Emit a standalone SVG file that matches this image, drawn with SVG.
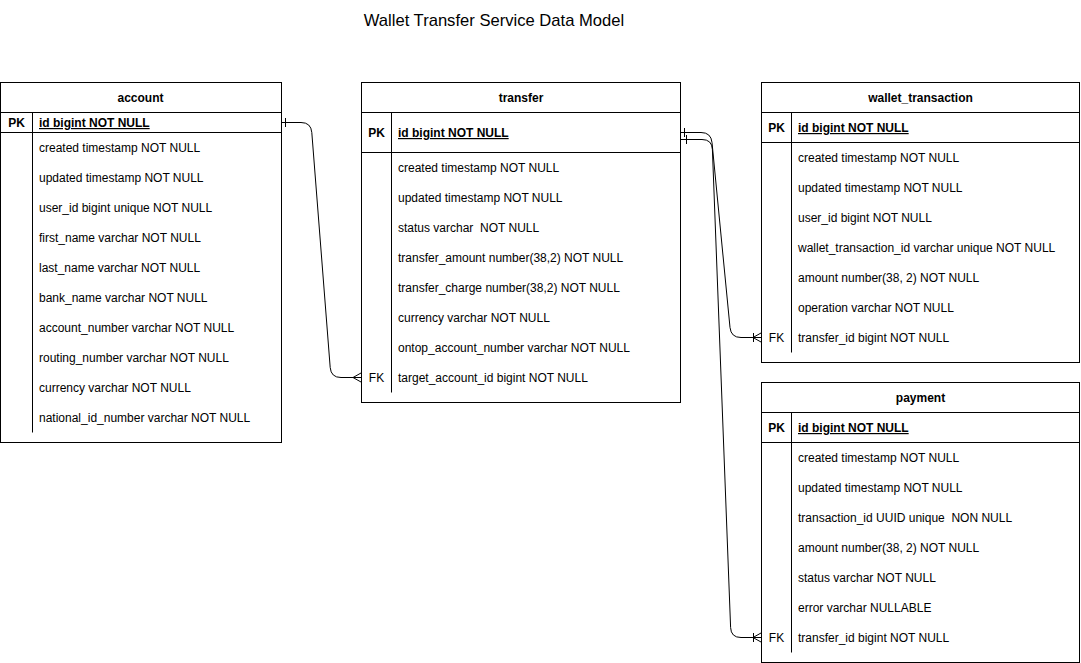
<svg xmlns="http://www.w3.org/2000/svg" width="1081" height="663" viewBox="0 0 1081 663">
<style>
text{font-family:"Liberation Sans",Arial,Helvetica,sans-serif;font-size:12px;fill:#000;white-space:pre}
.title{font-size:16.6px;text-anchor:middle}
.hdr{font-weight:bold;text-anchor:middle}
.key{font-weight:bold;text-anchor:middle}
.fk{text-anchor:middle}
.pk{font-weight:bold;text-decoration:underline}
.box{fill:#fff;stroke:#000;stroke-width:1}
.ln{stroke:#000;stroke-width:1;fill:none}
.edge{stroke:#000;stroke-width:1;fill:none}
</style>
<rect width="1081" height="663" fill="#fff"/>
<text class="title" x="494" y="26">Wallet Transfer Service Data Model</text>

<g id="account">
<rect class="box" x="0.5" y="82.5" width="281" height="360"/>
<line class="ln" x1="0.5" y1="112.5" x2="281.5" y2="112.5"/>
<line class="ln" x1="0.5" y1="132.5" x2="281.5" y2="132.5"/>
<line class="ln" x1="32.5" y1="112.5" x2="32.5" y2="432.5"/>
<text class="hdr" x="140.5" y="102">account</text>
<text class="key" x="16.5" y="127">PK</text>
<text class="pk" x="39" y="127">id bigint NOT NULL</text>
<text x="39" y="152">created timestamp NOT NULL</text>
<text x="39" y="182">updated timestamp NOT NULL</text>
<text x="39" y="212">user_id bigint unique NOT NULL</text>
<text x="39" y="242">first_name varchar NOT NULL</text>
<text x="39" y="272">last_name varchar NOT NULL</text>
<text x="39" y="302">bank_name varchar NOT NULL</text>
<text x="39" y="332">account_number varchar NOT NULL</text>
<text x="39" y="362">routing_number varchar NOT NULL</text>
<text x="39" y="392">currency varchar NOT NULL</text>
<text x="39" y="422">national_id_number varchar NOT NULL</text>
</g>

<g id="transfer">
<rect class="box" x="361.5" y="82.5" width="319" height="320"/>
<line class="ln" x1="361.5" y1="112.5" x2="680.5" y2="112.5"/>
<line class="ln" x1="361.5" y1="152.5" x2="680.5" y2="152.5"/>
<line class="ln" x1="391.5" y1="112.5" x2="391.5" y2="392.5"/>
<text class="hdr" x="521" y="102">transfer</text>
<text class="key" x="376.5" y="137">PK</text>
<text class="pk" x="398" y="137">id bigint NOT NULL</text>
<text x="398" y="172">created timestamp NOT NULL</text>
<text x="398" y="202">updated timestamp NOT NULL</text>
<text x="398" y="232">status varchar  NOT NULL</text>
<text x="398" y="262">transfer_amount number(38,2) NOT NULL</text>
<text x="398" y="292">transfer_charge number(38,2) NOT NULL</text>
<text x="398" y="322">currency varchar NOT NULL</text>
<text x="398" y="352">ontop_account_number varchar NOT NULL</text>
<text class="fk" x="376.5" y="382">FK</text>
<text x="398" y="382">target_account_id bigint NOT NULL</text>
</g>

<g id="wallet_transaction">
<rect class="box" x="761.5" y="82.5" width="318" height="280"/>
<line class="ln" x1="761.5" y1="112.5" x2="1079.5" y2="112.5"/>
<line class="ln" x1="761.5" y1="142.5" x2="1079.5" y2="142.5"/>
<line class="ln" x1="791.5" y1="112.5" x2="791.5" y2="352.5"/>
<text class="hdr" x="920.5" y="102">wallet_transaction</text>
<text class="key" x="776.5" y="132">PK</text>
<text class="pk" x="798" y="132">id bigint NOT NULL</text>
<text x="798" y="162">created timestamp NOT NULL</text>
<text x="798" y="192">updated timestamp NOT NULL</text>
<text x="798" y="222">user_id bigint NOT NULL</text>
<text x="798" y="252">wallet_transaction_id varchar unique NOT NULL</text>
<text x="798" y="282">amount number(38, 2) NOT NULL</text>
<text x="798" y="312">operation varchar NOT NULL</text>
<text class="fk" x="776.5" y="342">FK</text>
<text x="798" y="342">transfer_id bigint NOT NULL</text>
</g>

<g id="payment">
<rect class="box" x="761.5" y="382.5" width="318" height="280"/>
<line class="ln" x1="761.5" y1="412.5" x2="1079.5" y2="412.5"/>
<line class="ln" x1="761.5" y1="442.5" x2="1079.5" y2="442.5"/>
<line class="ln" x1="791.5" y1="412.5" x2="791.5" y2="652.5"/>
<text class="hdr" x="920.5" y="402">payment</text>
<text class="key" x="776.5" y="432">PK</text>
<text class="pk" x="798" y="432">id bigint NOT NULL</text>
<text x="798" y="462">created timestamp NOT NULL</text>
<text x="798" y="492">updated timestamp NOT NULL</text>
<text x="798" y="522">transaction_id UUID unique  NON NULL</text>
<text x="798" y="552">amount number(38, 2) NOT NULL</text>
<text x="798" y="582">status varchar NOT NULL</text>
<text x="798" y="612">error varchar NULLABLE</text>
<text class="fk" x="776.5" y="642">FK</text>
<text x="798" y="642">transfer_id bigint NOT NULL</text>
</g>

<g id="connectors">
<!-- account.id -> transfer.target_account_id -->
<path class="edge" d="M282,122.5 H301 Q311,122.5 311.8,132.5 L330.2,367.5 Q331,377.5 341,377.5 H361"/>
<line class="edge" x1="285.5" y1="118" x2="285.5" y2="127"/>
<path class="edge" d="M361,373 L353,377.5 L361,382"/>
<!-- transfer.id -> wallet_transaction.transfer_id -->
<path class="edge" d="M681,132.5 H701 Q711,132.5 712,142.5 L730,327.5 Q731,337.5 741,337.5 H761"/>
<line class="edge" x1="684.5" y1="128" x2="684.5" y2="137"/>
<line class="edge" x1="753.5" y1="333" x2="753.5" y2="342"/>
<path class="edge" d="M761,333 L753,337.5 L761,342"/>
<!-- transfer.id -> payment.transfer_id -->
<path class="edge" d="M681,139.5 H702 Q712,139.5 712.4,149.5 L730.6,627.5 Q731,637.5 741,637.5 H761"/>
<line class="edge" x1="686.5" y1="135" x2="686.5" y2="144"/>
<line class="edge" x1="753.5" y1="633" x2="753.5" y2="642"/>
<path class="edge" d="M761,633 L753,637.5 L761,642"/>
</g>
</svg>
